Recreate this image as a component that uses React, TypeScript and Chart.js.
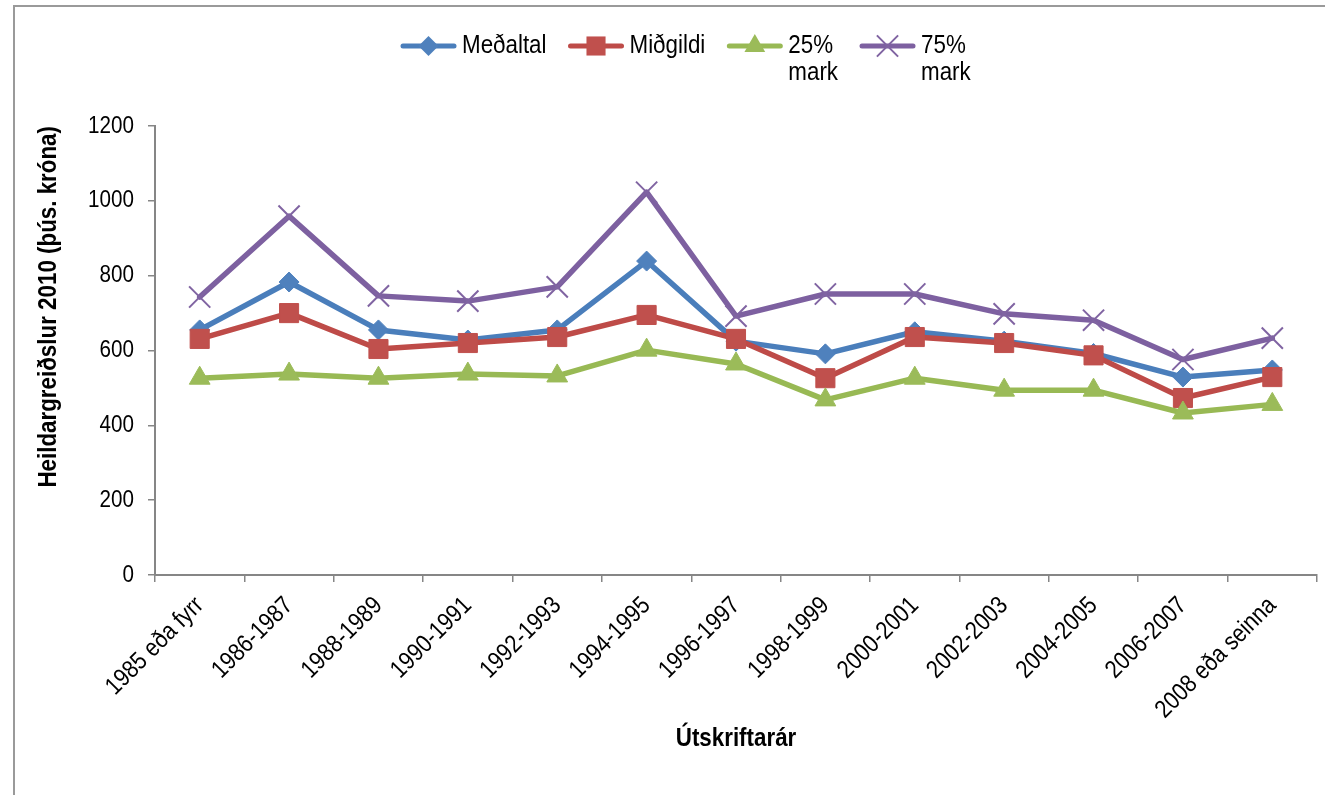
import React, { useEffect, useRef } from 'react';
import { Chart, registerables } from 'chart.js';

Chart.register(...registerables);

const FONT = "'Liberation Sans', Arial, sans-serif";
const NARROW = 0.86;

const categories = [
  '1985 eða fyrr', '1986-1987', '1988-1989', '1990-1991', '1992-1993', '1994-1995',
  '1996-1997', '1998-1999', '2000-2001', '2002-2003', '2004-2005', '2006-2007', '2008 eða seinna',
];
const meanValues = [655, 783, 655, 628, 655, 839, 625, 591, 650, 625, 592, 529, 548];
const medianValues = [631, 700, 604, 620, 636, 695, 631, 526, 636, 620, 587, 473, 529];
const p25Values = [526, 537, 526, 537, 532, 601, 564, 468, 526, 494, 494, 433, 456];
const p75Values = [743, 959, 746, 732, 770, 1023, 692, 751, 751, 698, 681, 576, 633];

const seriesNames = ['Meðaltal', 'Miðgildi', '25% mark', '75% mark'];
const legendLines = [['Meðaltal'], ['Miðgildi'], ['25%', 'mark'], ['75%', 'mark']];
const lineColors = ['#4A7EBB', '#BE4B48', '#98B954', '#7D60A0'];
const markerColors = ['#4F81BD', '#C0504D', '#9BBB59', '#8064A2'];
const markerStyles = ['rectRot', 'rect', 'triangle', 'crossRot'];
const markerRadii = [10, 13.5, 12, 15];

const yMin = 0;
const yMax = 1200;
const yStep = 200;
const yTitle = 'Heildargreiðslur 2010 (þús. króna)';
const xTitle = 'Útskriftarár';

function drawMarker(ctx: CanvasRenderingContext2D, style: string, x: number, y: number, r: number, color: string) {
  ctx.save();
  ctx.fillStyle = color;
  ctx.strokeStyle = color;
  ctx.beginPath();
  if (style === 'rectRot') {
    ctx.moveTo(x - r, y);
    ctx.lineTo(x, y - r);
    ctx.lineTo(x + r, y);
    ctx.lineTo(x, y + r);
    ctx.closePath();
    ctx.fill();
  } else if (style === 'rect') {
    const s = Math.SQRT1_2 * r;
    ctx.rect(x - s, y - s, 2 * s, 2 * s);
    ctx.fill();
  } else if (style === 'triangle') {
    let rad = 0;
    ctx.moveTo(x + Math.sin(rad) * r, y - Math.cos(rad) * r);
    rad += (2 * Math.PI) / 3;
    ctx.lineTo(x + Math.sin(rad) * r, y - Math.cos(rad) * r);
    rad += (2 * Math.PI) / 3;
    ctx.lineTo(x + Math.sin(rad) * r, y - Math.cos(rad) * r);
    ctx.closePath();
    ctx.fill();
  } else {
    const o = Math.SQRT1_2 * r;
    ctx.lineWidth = 2;
    ctx.moveTo(x - o, y - o);
    ctx.lineTo(x + o, y + o);
    ctx.moveTo(x - o, y + o);
    ctx.lineTo(x + o, y - o);
    ctx.stroke();
  }
  ctx.restore();
}

const legendPlugin = {
  id: 'excelLegend',
  afterDraw(chart: any) {
    const ctx: CanvasRenderingContext2D = chart.ctx;
    ctx.save();
    ctx.font = `26px ${FONT}`;
    ctx.textBaseline = 'middle';
    ctx.textAlign = 'left';
    let x = 401;
    const y = 46;
    legendLines.forEach((lines, i) => {
      ctx.save();
      ctx.strokeStyle = lineColors[i];
      ctx.lineWidth = 5;
      ctx.lineCap = 'round';
      ctx.beginPath();
      ctx.moveTo(x + 2, y);
      ctx.lineTo(x + 53, y);
      ctx.stroke();
      ctx.restore();
      drawMarker(ctx, markerStyles[i], x + 27.5, y, markerRadii[i], markerColors[i]);
      ctx.fillStyle = '#000';
      lines.forEach((t, j) => ctx.fillText(t, x + 61, y + j * 27));
      const w = Math.max(...lines.map((t) => ctx.measureText(t).width));
      x += 61 + w + 22;
    });
    ctx.restore();
  },
};

function narrowText(ctx: CanvasRenderingContext2D) {
  const origFill = ctx.fillText.bind(ctx);
  const origMeasure = ctx.measureText.bind(ctx);
  (ctx as any).fillText = (text: string, x: number, y: number, maxWidth?: number) => {
    ctx.save();
    ctx.translate(x, y);
    ctx.scale(NARROW, 1);
    if (maxWidth !== undefined && maxWidth !== null) origFill(text, 0, 0, maxWidth / NARROW);
    else origFill(text, 0, 0);
    ctx.restore();
  };
  (ctx as any).measureText = (text: string) => {
    const m = origMeasure(text);
    return {
      width: m.width * NARROW,
      actualBoundingBoxLeft: m.actualBoundingBoxLeft * NARROW,
      actualBoundingBoxRight: m.actualBoundingBoxRight * NARROW,
      actualBoundingBoxAscent: m.actualBoundingBoxAscent,
      actualBoundingBoxDescent: m.actualBoundingBoxDescent,
      fontBoundingBoxAscent: m.fontBoundingBoxAscent,
      fontBoundingBoxDescent: m.fontBoundingBoxDescent,
    };
  };
}

export default function App() {
  const canvasRef = useRef<HTMLCanvasElement | null>(null);

  useEffect(() => {
    const canvas = canvasRef.current;
    if (!canvas) return;
    const ctx2d = canvas.getContext('2d');
    if (ctx2d) narrowText(ctx2d);
    const seriesValues = [meanValues, medianValues, p25Values, p75Values];
    const chart = new Chart(canvas, {
      type: 'line',
      data: {
        labels: categories,
        datasets: seriesValues.map((vals, i) => ({
          label: seriesNames[i],
          data: vals,
          borderColor: lineColors[i],
          backgroundColor: markerColors[i],
          borderWidth: 5.5,
          borderJoinStyle: 'round' as const,
          borderCapStyle: 'round' as const,
          tension: 0,
          fill: false,
          pointStyle: markerStyles[i] as any,
          pointRadius: markerRadii[i],
          pointHoverRadius: markerRadii[i],
          pointBackgroundColor: markerColors[i],
          pointBorderColor: markerColors[i],
          pointBorderWidth: i === 3 ? 2 : 1,
          order: 4 - i,
        })),
      },
      options: {
        responsive: false,
        animation: false,
        devicePixelRatio: 1,
        layout: { autoPadding: false, padding: { top: 126, left: 20, right: 8, bottom: 0 } },
        plugins: {
          legend: { display: false },
          tooltip: { enabled: false },
        },
        scales: {
          x: {
            type: 'category',
            offset: true,
            grid: {
              offset: true,
              drawOnChartArea: false,
              drawTicks: true,
              tickLength: 7,
              color: '#868686',
              lineWidth: 1.5,
            },
            border: { display: true, color: '#868686', width: 2 },
            ticks: {
              autoSkip: false,
              maxRotation: 45,
              minRotation: 45,
              padding: 9,
              color: '#000',
              font: { family: FONT, size: 25 },
            },
            title: {
              display: true,
              text: xTitle,
              color: '#000',
              font: { family: FONT, size: 26, weight: 'bold' },
              padding: { top: 0, bottom: 41 },
            },
            afterFit: (scale: any) => {
              scale.height = 220;
              scale.paddingLeft = 0;
              scale.paddingRight = 0;
            },
          },
          y: {
            min: yMin,
            max: yMax,
            grid: {
              drawOnChartArea: false,
              drawTicks: true,
              tickLength: 7,
              color: '#868686',
              lineWidth: 1.5,
            },
            border: { display: true, color: '#868686', width: 2 },
            ticks: {
              stepSize: yStep,
              padding: 14,
              color: '#000',
              font: { family: FONT, size: 24 },
              callback: (value: any) => String(value),
            },
            title: {
              display: true,
              text: yTitle,
              align: 'end',
              color: '#000',
              font: { family: FONT, size: 26, weight: 'bold' },
              padding: { top: 13, bottom: 0 },
            },
            afterFit: (scale: any) => {
              scale.width = 135;
            },
          },
        },
      },
      plugins: [legendPlugin],
    });
    return () => chart.destroy();
  }, []);

  return (
    <div style={{ position: 'absolute', left: 0, top: 0, width: 1325, height: 795, overflow: 'hidden', background: '#fff' }}>
      <div
        style={{
          position: 'absolute',
          left: 13,
          top: 5,
          width: 1400,
          height: 900,
          borderLeft: '2px solid #9a9a9a',
          borderTop: '2px solid #9a9a9a',
        }}
      />
      <canvas ref={canvasRef} width={1325} height={795} style={{ position: 'absolute', left: 0, top: 0 }} />
    </div>
  );
}
